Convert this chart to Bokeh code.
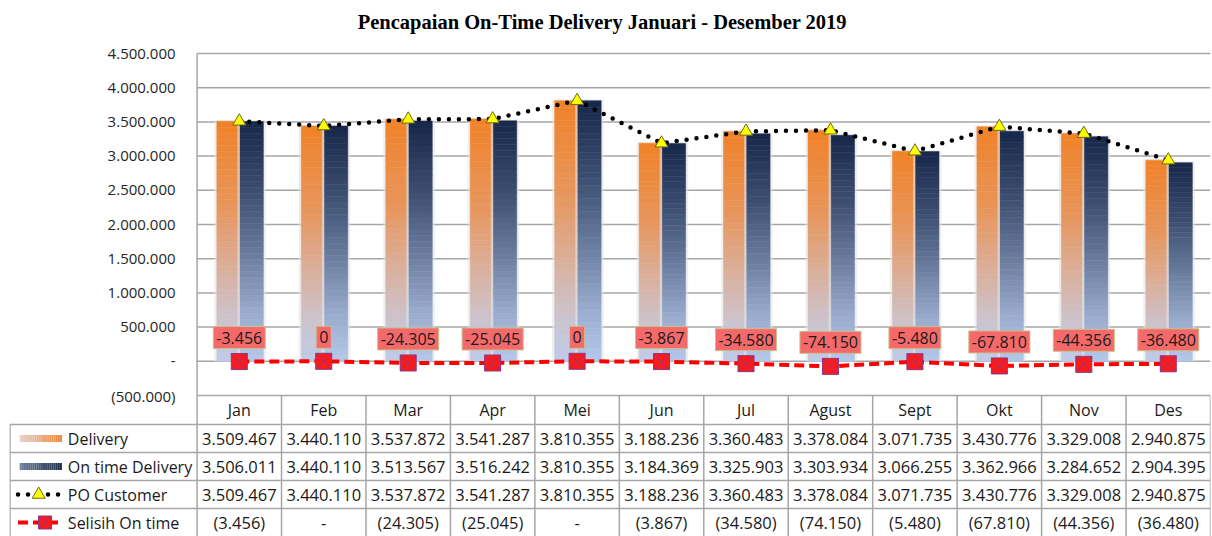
import numpy as np
from bokeh.plotting import figure
from bokeh.models import Range1d
from bokeh.core.properties import value
from bokeh.embed import file_html
from bokeh.resources import INLINE

# ---------------- data ----------------
months = ["Jan", "Feb", "Mar", "Apr", "Mei", "Jun", "Jul", "Agust", "Sept", "Okt", "Nov", "Des"]
delivery = [3509467, 3440110, 3537872, 3541287, 3810355, 3188236, 3360483, 3378084, 3071735, 3430776, 3329008, 2940875]
on_time = [3506011, 3440110, 3513567, 3516242, 3810355, 3184369, 3325903, 3303934, 3066255, 3362966, 3284652, 2904395]
po_customer = [3509467, 3440110, 3537872, 3541287, 3810355, 3188236, 3360483, 3378084, 3071735, 3430776, 3329008, 2940875]
selisih = [-3456, 0, -24305, -25045, 0, -3867, -34580, -74150, -5480, -67810, -44356, -36480]
y_ticks = [-500000, 0, 500000, 1000000, 1500000, 2000000, 2500000, 3000000, 3500000, 4000000, 4500000]
series_names = ["Delivery", "On time Delivery", "PO Customer", "Selisih On time"]
title_text = "Pencapaian  On-Time  Delivery Januari  - Desember 2019"


def fmt(v):
    return f"{abs(int(v)):,}".replace(",", ".")


def tick_label(v):
    if v == 0:
        return "-"
    return f"({fmt(v)})" if v < 0 else fmt(v)


def table_label(v):
    if v == 0:
        return "-"
    return f"({fmt(v)})" if v < 0 else fmt(v)


def data_label(v):
    if v == 0:
        return "0"
    return ("-" if v < 0 else "") + fmt(v)


def hex2rgb(h):
    h = h.lstrip("#")
    return [int(h[i:i + 2], 16) for i in (0, 2, 4)]


def grad(stops, f):
    for (f0, c0), (f1, c1) in zip(stops[:-1], stops[1:]):
        if f0 <= f <= f1:
            t = (f - f0) / (f1 - f0) if f1 > f0 else 0
            a, b = hex2rgb(c0), hex2rgb(c1)
            return "#%02x%02x%02x" % tuple(int(round(a[k] + (b[k] - a[k]) * t)) for k in range(3))
    return stops[-1][1]


orange_stops = [(0.0, "#BECBE8"), (0.18, "#CCC3CC"), (0.4, "#DBAE98"), (0.65, "#E8955A"), (1.0, "#F08228")]
navy_stops = [(0.0, "#B6C8EA"), (0.2, "#9AACCD"), (0.45, "#6A7C9E"), (0.7, "#3E5072"), (1.0, "#17274A")]

# ---------------- layout ----------------
W, H = 1212, 536
BORDER_TOP = 40                   # frame starts above chart top so top tick label is not clipped
EXTRA_TOP_PX = 13
FRAME_H = H - BORDER_TOP          # 496
CHART_PX = 342                    # pixel height of chart part (-500k .. 4.5M)
TABLE_PX = FRAME_H - CHART_PX - EXTRA_TOP_PX   # 141
y_top = 4500000
y_chart_bottom = -500000
px_val = (y_top - y_chart_bottom) / CHART_PX
y_bottom = y_chart_bottom - TABLE_PX * px_val
y_range_top = y_top + EXTRA_TOP_PX * px_val
label_col = 2.215
n = len(months)
centers = [i + 0.5 for i in range(n)]

p = figure(width=W, height=H, output_backend="svg", toolbar_location=None,
           x_range=Range1d(-label_col - 0.006, n), y_range=Range1d(y_bottom, y_range_top),
           min_border_left=9, min_border_right=2, min_border_top=BORDER_TOP, min_border_bottom=0)
p.extra_y_ranges = {"tbl": Range1d(0, FRAME_H)}
p.xaxis.visible = False
p.yaxis.visible = False
p.grid.visible = False
p.outline_line_color = None
p.background_fill_color = "white"

p.title.text = title_text
p.title.align = "center"
p.title.text_font = "Liberation Serif"
p.title.text_font_size = "20.5px"
p.title.text_font_style = "bold"
p.title.text_color = "#000000"
p.title.standoff = 16

GRID = "#A6A6A6"
FONT = value("Open Sans")

# chart gridlines
p.segment(x0=[0] * len(y_ticks), x1=[n] * len(y_ticks), y0=y_ticks, y1=y_ticks,
          line_color=GRID, line_width=1.5)
p.segment(x0=[0], x1=[0], y0=[y_ticks[0]], y1=[y_ticks[-1]], line_color=GRID, line_width=1.5)

# y tick labels
p.text(x=[-0.255] * len(y_ticks), y=y_ticks, text=[tick_label(v) for v in y_ticks],
       text_align="right", text_baseline="middle", text_font=FONT, text_font_size="15px",
       text_color="#262626")

# bars with gradient (sliced)
N = 40
for vals, stops, l_off, r_off in ((delivery, orange_stops, -0.266, -0.004),
                                  (on_time, navy_stops, 0.008, 0.285)):
    L, R, B, T, C = [], [], [], [], []
    for c, v in zip(centers, vals):
        edges = np.linspace(0, v, N + 1)
        for k in range(N):
            L.append(c + l_off)
            R.append(c + r_off)
            B.append(edges[k])
            T.append(edges[k + 1])
            C.append(grad(stops, (k + 0.5) / N))
    # soft halo behind
    p.quad(left=[c + l_off - 0.03 for c in centers], right=[c + r_off + 0.03 for c in centers],
           bottom=[0] * n, top=[v + 20000 for v in vals], fill_color="#E4E4E4", fill_alpha=0.6,
           line_color=None)
    p.quad(left=L, right=R, bottom=B, top=T, fill_color=C, line_color=C, line_width=0.5)

# PO customer line
p.line(x=centers, y=po_customer, line_color="black", line_width=4.5, line_dash="0 10",
       line_cap="round")
p.scatter(x=centers, y=po_customer, marker="triangle", size=13, fill_color="#FFFF00",
          line_color="#6B6B1A", line_width=1)

# Selisih line
p.line(x=centers, y=selisih, line_color="#FF0000", line_width=4, line_dash="10 5")
p.scatter(x=centers, y=selisih, marker="square_x", size=16, fill_color="#FF1A1A",
          line_color="#8A3585", line_width=1)
p.text(x=centers, y=selisih, text=[data_label(v) for v in selisih], text_align="center",
       text_baseline="bottom", y_offset=-13, text_font=FONT, text_font_size="16px",
       text_color="#1A1A1A", background_fill_color="#F46A6A", border_line_color="#C9C08A",
       border_line_width=1, padding=(3, 5))

# ---------------- table ----------------
row_lines = [0, 28, 56, 84, 112]
header_top = TABLE_PX
row_centers = [98, 70, 42, 14]
header_center = (112 + TABLE_PX) / 2

# horizontal lines
p.segment(x0=[-label_col] * len(row_lines[1:]), x1=[n] * len(row_lines[1:]),
          y0=row_lines[1:], y1=row_lines[1:], line_color=GRID, line_width=1.5, y_range_name="tbl")
# vertical lines
vx = list(range(n + 1))
p.segment(x0=vx, x1=vx, y0=[0] * len(vx), y1=[header_top] * len(vx), line_color=GRID,
          line_width=1.5, y_range_name="tbl")
p.segment(x0=[-label_col], x1=[-label_col], y0=[0], y1=[112], line_color=GRID, line_width=1.5,
          y_range_name="tbl")

# month headers
p.text(x=centers, y=[header_center] * n, text=months, text_align="center", text_baseline="middle",
       text_font=FONT, text_font_size="16px", text_color="#1A1A1A", y_range_name="tbl")

# table values
rows = [[fmt(v) for v in delivery], [fmt(v) for v in on_time], [fmt(v) for v in po_customer],
        [table_label(v) for v in selisih]]
for rc, vals in zip(row_centers, rows):
    p.text(x=centers, y=[rc] * n, text=vals, text_align="center", text_baseline="middle",
           text_font=FONT, text_font_size="16.5px", text_color="#1A1A1A", y_range_name="tbl")

# legend labels
p.text(x=[-1.53] * 4, y=row_centers, text=series_names, text_align="left", text_baseline="middle",
       text_font=FONT, text_font_size="16px", text_color="#1A1A1A", y_range_name="tbl")

# legend keys
KN = 20
kx = np.linspace(-2.10, -1.60, KN + 1)
for rc, c_from, c_to in ((98, "#E6D2CA", "#EE8838"), (70, "#7080A0", "#1E2D4C")):
    p.quad(left=kx[:-1], right=kx[1:], bottom=[rc - 3.5] * KN, top=[rc + 3.5] * KN,
           fill_color=[grad([(0, c_from), (1, c_to)], (k + 0.5) / KN) for k in range(KN)],
           line_color=None, y_range_name="tbl")
p.line(x=[-2.12, -1.60], y=[42, 42], line_color="black", line_width=4.5, line_dash="0 10",
       line_cap="round", y_range_name="tbl")
p.scatter(x=[-1.875], y=[42], marker="triangle", size=13, fill_color="#FFFF00", line_color="#6B6B1A",
          y_range_name="tbl")
p.line(x=[-2.12, -1.60], y=[14, 14], line_color="#FF0000", line_width=4, line_dash="10 5",
       y_range_name="tbl")
p.scatter(x=[-1.80], y=[14], marker="square_x", size=13, fill_color="#FF1A1A", line_color="#8A3585",
          y_range_name="tbl")

open("out.html", "w").write(file_html(p, INLINE))
